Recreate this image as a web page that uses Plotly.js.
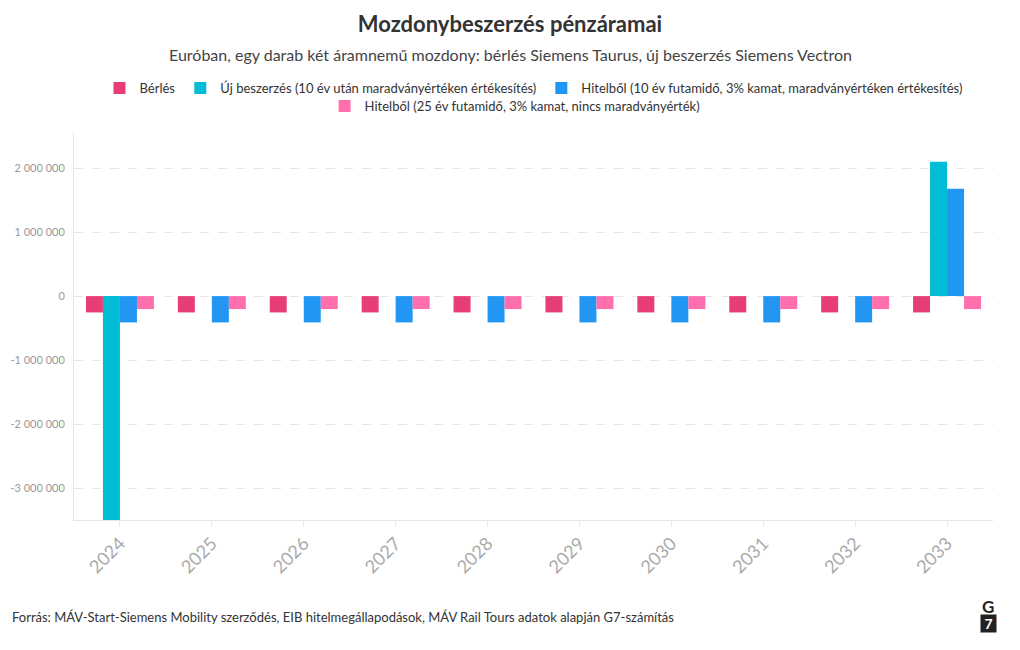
<!DOCTYPE html>
<html>
<head>
<meta charset="utf-8">
<script src="https://cdn.plot.ly/plotly-3.0.1.min.js"></script>
<style>html,body{margin:0;padding:0;background:#fff;}#chart{width:1020px;height:650px;}</style>
</head>
<body>
<div id="chart"></div>
<script>
const years = ['2024','2025','2026','2027','2028','2029','2030','2031','2032','2033'];
const seriesNames = [
  'Bérlés',
  'Új beszerzés (10 év után maradványértéken értékesítés)',
  'Hitelből (10 év futamidő, 3% kamat, maradványértéken értékesítés)',
  'Hitelből (25 év futamidő, 3% kamat, nincs maradványérték)'
];
const berles = [-255000,-255000,-255000,-255000,-255000,-255000,-255000,-255000,-255000,-255000];
const ujBeszerzes = [-3700000,0,0,0,0,0,0,0,0,2100000];
const hitel10 = [-411000,-411000,-411000,-411000,-411000,-411000,-411000,-411000,-411000,1680000];
const hitel25 = [-203000,-203000,-203000,-203000,-203000,-203000,-203000,-203000,-203000,-203000];
const yTickVals = [-3000000,-2000000,-1000000,0,1000000,2000000];
const yTickText = ['-3 000 000','-2 000 000','-1 000 000','0','1 000 000','2 000 000'];
const colors = ['#E83E78','#00BCD4','#2196F3','#FF6FAE'];

const FONT = 'Lato, "Noto Sans", sans-serif';
const vals = [berles, ujBeszerzes, hitel10, hitel25];
const traces = vals.map((v,i)=>({
  type:'bar', x: years, y: v, name: seriesNames[i],
  marker:{color: colors[i], line:{width:0}},
  legend: i===3 ? 'legend2' : 'legend',
  hoverinfo:'x+y+name'
}));

const layout = {
  width:1020, height:650,
  paper_bgcolor:'#fff', plot_bgcolor:'#fff',
  font:{family:FONT, color:'#333'},
  separators:', ',
  margin:{l:74, r:27, t:133, b:130},
  barmode:'group', bargap:0.26, bargroupgap:0,
  title:{text:'<b>Mozdonybeszerzés pénzáramai</b>', x:0.5, xanchor:'center', y:1-24/650, yanchor:'middle',
    font:{size:22, color:'#333', family:FONT}},
  xaxis:{type:'category', range:[-0.5,9.5], tickangle:-45, tickfont:{size:18, color:'#aaa'},
    showline:true, linecolor:'#e6e6e6', linewidth:1, showgrid:false, ticks:'outside', ticklen:5, tickcolor:'#e6e6e6'},
  yaxis:{range:[-3500000,2550000], tickmode:'array', tickvals:yTickVals, ticktext:yTickText,
    tickfont:{size:11, color:'#999'}, showgrid:true, gridcolor:'#e6e6e6', griddash:'dash',
    zeroline:false, showline:true, linecolor:'#e6e6e6', ticks:'', ticklabelstandoff:6},
  legend:{orientation:'h', x:0.5, xanchor:'center', y:1+ (133-88)/387, yanchor:'middle',
    font:{size:13, color:'#333'}, itemwidth:30, tracegroupgap:0, bgcolor:'rgba(0,0,0,0)'},
  legend2:{orientation:'h', x:0.48, xanchor:'center', y:1+ (133-106)/387, yanchor:'middle',
    font:{size:13, color:'#333'}, itemwidth:30, bgcolor:'rgba(0,0,0,0)'},
  annotations:[
    {text:'Euróban, egy darab két áramnemű mozdony: bérlés Siemens Taurus, új beszerzés Siemens Vectron',
      xref:'paper', yref:'paper', x:(510-74)/919, y:1+(133-54)/387, xanchor:'center', yanchor:'middle',
      showarrow:false, font:{size:16, color:'#444'}},
    {text:'Forrás: MÁV-Start-Siemens Mobility szerződés, EIB hitelmegállapodások, MÁV Rail Tours adatok alapján G7-számítás',
      xref:'paper', yref:'paper', x:(10-74)/919, y:-(617-520)/387, xanchor:'left', yanchor:'middle',
      showarrow:false, font:{size:13, color:'#333'}},
    {text:'<b>G</b>', xref:'paper', yref:'paper', x:(988-74)/919, y:-(606-520)/387, xanchor:'center', yanchor:'middle',
      showarrow:false, font:{size:17, color:'#222'}},
    {text:'<b>7</b>', xref:'paper', yref:'paper', x:(988-74)/919, y:-(623-520)/387, xanchor:'center', yanchor:'middle',
      showarrow:false, font:{size:14, color:'#fff'}, bgcolor:'#222', borderpad:1, width:13, height:15}
  ]
};
Plotly.newPlot('chart', traces, layout, {displayModeBar:false, staticPlot:true});
</script>
</body>
</html>
